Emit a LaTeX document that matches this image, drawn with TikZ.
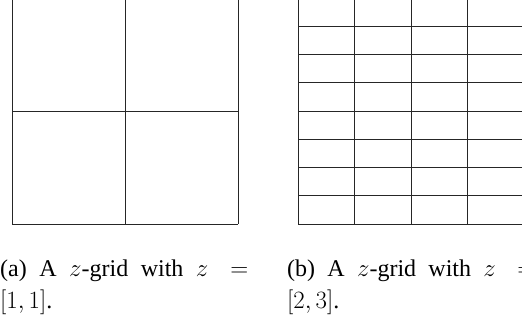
\documentclass[tikz,border=0pt]{standalone}
\usepackage[no-math]{fontspec}
\setmainfont{Liberation Serif}
\begin{document}
\begin{tikzpicture}[x=1pt,y=1pt,
  gridline/.style={line width=0.9pt,draw=black!85},
  captext/.style={anchor=base west,inner sep=0pt,font=\fontsize{24}{29}\selectfont}]
\useasboundingbox (0,0) rectangle (522,324);
\begin{scope}
\clip (0,0) rectangle (522,324);
% left grid z=[1,1]
\foreach \i in {0,1,2} \draw[gridline] (12+113*\i,100) -- (12+113*\i,326);
\foreach \j in {0,1,2} \draw[gridline] (12,100+113*\j) -- (238,100+113*\j);
% right grid z=[2,3]
\foreach \i in {0,...,4} \draw[gridline] (298+56.5*\i,100) -- (298+56.5*\i,326);
\foreach \j in {0,...,8} \draw[gridline] (298,100+28.25*\j) -- (524,100+28.25*\j);
% captions
\node[captext] (ca1) at (0,48) {\makebox[248pt][s]{(a) A $z$-grid with $z =$}};
\node[captext] (ca2) at (0,16) {$[1,1]$.};
\node[captext] (cb1) at (287,48) {\makebox[248pt][s]{(b) A $z$-grid with $z =$}};
\node[captext] (cb2) at (287,16) {$[2,3]$.};
\end{scope}
\end{tikzpicture}
\end{document}
